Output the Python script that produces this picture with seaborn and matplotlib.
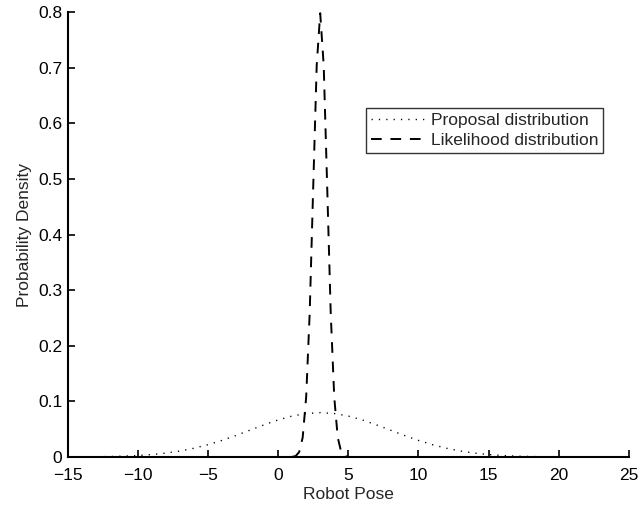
import matplotlib
matplotlib.use("Agg")
import matplotlib.pyplot as plt
import seaborn as sns
import pandas as pd

# Proposal distribution (x = -15 .. 25, step 1)
proposal_x = list(range(-15, 26))
proposal_y = [0.00012, 0.00025, 0.00048, 0.00089, 0.0016, 0.0027, 0.0045,
              0.0071, 0.0108, 0.0158, 0.0222, 0.0299, 0.0388, 0.0484,
              0.0579, 0.0667, 0.0737, 0.0782, 0.0798, 0.0782, 0.0737,
              0.0667, 0.0579, 0.0484, 0.0388, 0.0299, 0.0222, 0.0158,
              0.0108, 0.0071, 0.0045, 0.0027, 0.0016, 0.00089, 0.00048,
              0.00025, 0.00012, 0.00006, 0.00003, 0.00001, 0.00001]

# Likelihood distribution (x = 1 .. 5, step 0.25)
likelihood_x = [1.0, 1.25, 1.5, 1.75, 2.0, 2.25, 2.5, 2.75, 3.0,
                3.25, 3.5, 3.75, 4.0, 4.25, 4.5, 4.75, 5.0]
likelihood_y = [0.0003, 0.0017, 0.0089, 0.035, 0.108, 0.259, 0.484, 0.704,
                0.798, 0.704, 0.484, 0.259, 0.108, 0.035, 0.0089, 0.0017,
                0.0003]

series_labels = ["Proposal distribution", "Likelihood distribution"]
x_ticks = [-15, -10, -5, 0, 5, 10, 15, 20, 25]
y_ticks = [0, 0.1, 0.2, 0.3, 0.4, 0.5, 0.6, 0.7, 0.8]

sns.set_style("ticks")
plt.rcParams['font.family'] = ['Liberation Sans', 'DejaVu Sans']

df_prop = pd.DataFrame({"x": proposal_x, "y": proposal_y})
df_lik = pd.DataFrame({"x": likelihood_x, "y": likelihood_y})

fig = plt.figure(figsize=(6.39, 5.05), dpi=100)
ax = fig.add_axes([0.106, 0.095, 0.878, 0.881])

sns.lineplot(data=df_prop, x="x", y="y", ax=ax, color="black",
             linewidth=1.0, linestyle=(0, (0.9, 4.4)),
             label=series_labels[0])
sns.lineplot(data=df_lik, x="x", y="y", ax=ax, color="black",
             linewidth=1.4, linestyle=(0, (5.5, 4.5)),
             label=series_labels[1])

ax.set_xlim(-15, 25)
ax.set_ylim(0, 0.8)
ax.set_xticks(x_ticks)
ax.set_yticks(y_ticks)
ax.set_xticklabels([str(t) if t >= 0 else "\u2212" + str(-t) for t in x_ticks])
ax.set_yticklabels(["0"] + [f"{t:.1f}" for t in y_ticks[1:]])
ax.tick_params(direction="in", length=5, width=1.2, labelsize=12.5,
               colors="black")
ax.tick_params(axis="x", pad=8)
ax.tick_params(axis="y", pad=4)

for side in ["top", "right"]:
    ax.spines[side].set_visible(False)
for side in ["left", "bottom"]:
    ax.spines[side].set_linewidth(1.5)
    ax.spines[side].set_color("black")

ax.set_xlabel("Robot Pose", fontsize=12.5, labelpad=3)
ax.set_ylabel("Probability Density", fontsize=12.5, labelpad=4)

leg = ax.legend(loc="upper right", bbox_to_anchor=(0.944, 0.786),
                bbox_transform=fig.transFigure, fontsize=12.5,
                frameon=True, fancybox=False, handlelength=3.0,
                borderpad=0.3, labelspacing=0.25, handletextpad=0.4,
                borderaxespad=0)
leg.get_frame().set_edgecolor("black")
leg.get_frame().set_linewidth(1.0)

fig.savefig("out.png", dpi=100)
